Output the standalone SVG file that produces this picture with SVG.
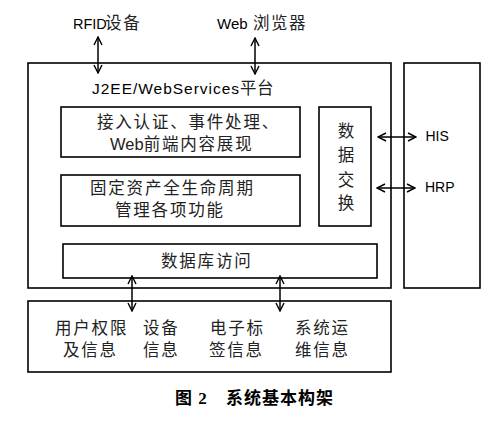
<svg xmlns="http://www.w3.org/2000/svg" width="500" height="421" viewBox="0 0 500 421">
<defs>
<marker id="ah" viewBox="0 0 10 10" refX="9" refY="5" markerWidth="10" markerHeight="10" markerUnits="userSpaceOnUse" orient="auto-start-reverse">
<path d="M1,1 L9,5 L1,9" fill="none" stroke="#000" stroke-width="1.4"/>
</marker>
<style>
.box{fill:#fff;stroke:#000;stroke-width:1.6}
.t{font-family:"Liberation Sans","Noto Sans CJK SC",sans-serif;font-size:14px;fill:#000}
.c{font-family:"Noto Sans CJK SC",sans-serif;font-size:16.5px;fill:#222;letter-spacing:1.8px}
.cap{font-family:"Liberation Serif","Noto Sans CJK SC",serif;font-size:17px;font-weight:bold;fill:#000;letter-spacing:1px}
.ln{stroke:#000;stroke-width:1.5;fill:none;marker-start:url(#ah);marker-end:url(#ah)}
</style>
</defs>
<rect width="500" height="421" fill="#fff"/>
<g id="platform">
<rect class="box" x="28" y="63" width="363" height="225"/>
<text class="t" x="92" y="94" style="font-size:15.5px" textLength="147" lengthAdjust="spacing">J2EE/WebServices</text>
<text class="c" x="240" y="94" style="letter-spacing:0.5px">平台</text>
</g>
<g id="external">
<rect class="box" x="404" y="63" width="76" height="225"/>
</g>
<g id="rfid"><text class="t" x="73" y="29" style="font-size:14.5px">RFID<tspan class="c" x="105">设备</tspan></text></g>
<g id="browser"><text class="t" x="217" y="29" style="font-size:15px">Web<tspan class="c" x="253" style="letter-spacing:1.5px">浏览器</tspan></text></g>
<g id="access">
<rect class="box" x="61" y="107" width="239" height="50"/>
<text class="c" x="97" y="128">接入认证、事件处理、</text>
<text class="c" x="110" y="150"><tspan style="font-family:'Liberation Sans';letter-spacing:0">Web</tspan>前端内容展现</text>
</g>
<g id="asset">
<rect class="box" x="61" y="175" width="239" height="51"/>
<text class="c" x="90" y="194">固定资产全生命周期</text>
<text class="c" x="115" y="216">管理各项功能</text>
</g>
<g id="exchange">
<rect class="box" x="319" y="107" width="52" height="119"/>
<text class="c" x="346" y="137" text-anchor="middle" style="letter-spacing:0">数</text>
<text class="c" x="346" y="161" text-anchor="middle" style="letter-spacing:0">据</text>
<text class="c" x="346" y="186" text-anchor="middle" style="letter-spacing:0">交</text>
<text class="c" x="346" y="209" text-anchor="middle" style="letter-spacing:0">换</text>
</g>
<g id="his"><text class="t" x="425.5" y="141">HIS</text></g>
<g id="hrp"><text class="t" x="425" y="192">HRP</text></g>
<g id="db">
<rect class="box" x="63" y="244" width="314" height="34"/>
<text class="c" x="161" y="267">数据库访问</text>
</g>
<g id="data">
<rect class="box" x="28" y="301" width="363" height="71"/>
<text class="c" x="55" y="334">用户权限</text>
<text class="c" x="63" y="356">及信息</text>
<text class="c" x="143" y="334">设备</text>
<text class="c" x="143" y="356">信息</text>
<text class="c" x="210" y="334">电子标</text>
<text class="c" x="209" y="356">签信息</text>
<text class="c" x="295" y="334">系统运</text>
<text class="c" x="295" y="356">维信息</text>
</g>
<g id="connectors">
<line class="ln" x1="98" y1="37" x2="98" y2="73"/>
<line class="ln" x1="255" y1="38" x2="255" y2="74"/>
<line class="ln" x1="132" y1="276" x2="132" y2="311"/>
<line class="ln" x1="280" y1="276" x2="280" y2="311"/>
<line class="ln" x1="378" y1="137" x2="416" y2="137"/>
<line class="ln" x1="377" y1="188" x2="415" y2="188"/>
</g>
<text class="cap" x="175" y="404">图 2</text>
<text class="cap" x="226" y="404">系统基本构架</text>
</svg>
